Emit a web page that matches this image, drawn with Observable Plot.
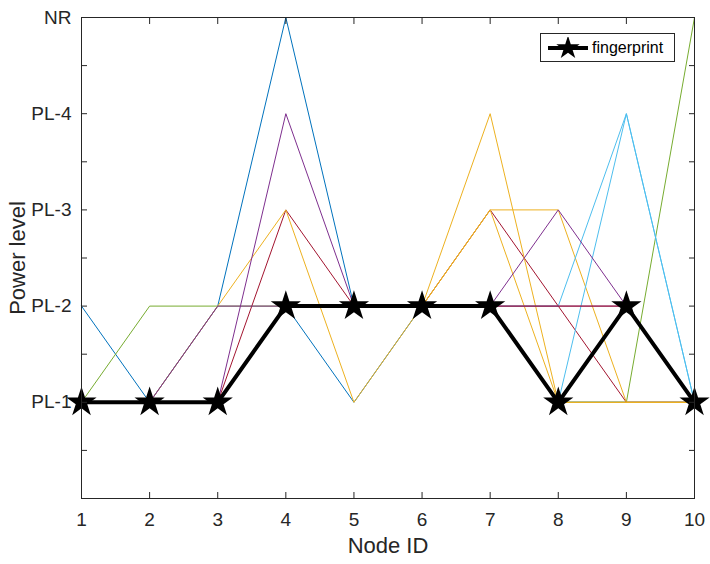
<!DOCTYPE html>
<html>
<head>
<meta charset="utf-8">
<script src="https://cdn.jsdelivr.net/npm/d3@7"></script>
<script src="https://cdn.jsdelivr.net/npm/@observablehq/plot@0.6"></script>
<style>
  html, body { margin: 0; padding: 0; background: #fff; }
  #wrap { position: relative; width: 710px; height: 564px; font-family: "Liberation Sans", Arial, Helvetica, sans-serif; }
  #legend { position: absolute; left: 540px; top: 33px; width: 135px; height: 29px; border: 1px solid #262626; background: #fff; box-sizing: border-box; display: flex; align-items: center; font-size: 16px; color: #000; }
  #legend svg { margin-left: 5px; margin-right: 2px; }
</style>
</head>
<body>
<div id="wrap"></div>
<script>
// ---- data ----
const nodes = [1, 2, 3, 4, 5, 6, 7, 8, 9, 10];
const yTickValues = [1, 2, 3, 4, 5];
const yTickLabels = ["PL-1", "PL-2", "PL-3", "PL-4", "NR"];
const fingerprint = [1, 1, 1, 2, 2, 2, 2, 1, 2, 1];
const blueA   = [2, 1, 1, 2, 1, 2, 2, 1, 1, 1];
const blueB   = [1, 1, 2, 5, 2, 2, 2, 1, 1, 1];
const greenA  = [1, 2, 2, 2, 2, 2, 2, 1, 1, 5];
const redA    = [1, 1, 1, 3, 2, 2, 3, 2, 1, 1];
const yellowA = [1, 1, 2, 3, 1, 2, 4, 1, 1, 1];
const yellowB = [1, 1, 1, 2, 2, 2, 3, 3, 1, 1];
const yellowC = [1, 1, 1, 2, 2, 2, 3, 1, 1, 1];
const cyanA   = [1, 1, 1, 2, 2, 2, 2, 1, 4, 1];
const cyanB   = [1, 1, 1, 2, 2, 2, 2, 2, 4, 1];
const purpleA = [1, 1, 2, 2, 2, 2, 2, 3, 2, 1];
const purpleB = [1, 1, 1, 4, 2, 2, 2, 2, 2, 1];
const redB    = [1, 1, 1, 2, 2, 2, 2, 2, 2, 1];

const seriesList = [
  {name: "blueA", values: blueA, color: "#0072BD"},
  {name: "blueB", values: blueB, color: "#0072BD"},
  {name: "greenA", values: greenA, color: "#77AC30"},
  {name: "redA", values: redA, color: "#A2142F"},
  {name: "yellowA", values: yellowA, color: "#EDB120"},
  {name: "yellowB", values: yellowB, color: "#EDB120"},
  {name: "yellowC", values: yellowC, color: "#EDB120"},
  {name: "cyanA", values: cyanA, color: "#4DBEEE"},
  {name: "cyanB", values: cyanB, color: "#4DBEEE"},
  {name: "purpleA", values: purpleA, color: "#7E2F8E"},
  {name: "purpleB", values: purpleB, color: "#7E2F8E"},
  {name: "redB", values: redB, color: "#A2142F"}
];

const fpData = nodes.map((n, i) => ({node: n, level: fingerprint[i]}));
const minorY = d3.range(0, 5.01, 0.5);

const axisColor = "#262626";
const lineMarks = seriesList.map(s =>
  Plot.line(nodes.map((n, i) => ({node: n, level: s.values[i]})),
    {x: "node", y: "level", stroke: s.color, strokeWidth: 1})
);

const chart = Plot.plot({
  width: 710,
  height: 564,
  marginLeft: 81,
  marginRight: 16,
  marginTop: 17,
  marginBottom: 66,
  style: {fontFamily: "Liberation Sans, Arial, Helvetica, sans-serif", fontSize: "19px", color: axisColor, background: "#fff"},
  x: {domain: [1, 10]},
  y: {domain: [0, 5]},
  marks: [
    ...lineMarks,
    Plot.line(fpData, {x: "node", y: "level", stroke: "#000", strokeWidth: 4, strokeLinejoin: "miter"}),
    Plot.dot(fpData, {x: "node", y: "level", symbol: "star", r: 9.5, fill: "#000", stroke: "none"}),
    Plot.frame({stroke: axisColor, strokeWidth: 1}),
    // inward ticks
    Plot.axisX({anchor: "bottom", ticks: nodes, tickSize: 6, dy: -6, tickFormat: () => "", label: null, stroke: axisColor}),
    Plot.axisX({anchor: "top", ticks: nodes, tickSize: 6, dy: 6, tickFormat: () => "", label: null, stroke: axisColor}),
    Plot.axisY({anchor: "left", ticks: minorY, tickSize: 6, dx: 6, tickFormat: () => "", label: null, stroke: axisColor}),
    Plot.axisY({anchor: "right", ticks: minorY, tickSize: 6, dx: -6, tickFormat: () => "", label: null, stroke: axisColor}),
    // labels
    Plot.axisX({anchor: "bottom", ticks: nodes, tickSize: 0, tickPadding: 14, fontSize: 19, fill: axisColor,
      label: "Node ID", labelAnchor: "center", labelArrow: "none", labelOffset: 54}),
    Plot.axisY({anchor: "left", ticks: yTickValues, tickSize: 0, tickPadding: 10, fontSize: 19, fill: axisColor,
      tickFormat: d => yTickLabels[d - 1],
      label: "Power level", labelAnchor: "center", labelArrow: "none", labelOffset: 72})
  ]
});

chart.querySelectorAll("[aria-label='x-axis label'] text, [aria-label='y-axis label'] text").forEach(t => {
  t.setAttribute("font-size", "22");
  t.style.fontSize = "22px";
});

const wrap = document.getElementById("wrap");
wrap.appendChild(chart);

const legend = document.createElement("div");
legend.id = "legend";
legend.innerHTML = `<svg width="44" height="22" viewBox="0 0 44 22">
  <line x1="2" y1="11" x2="42" y2="11" stroke="#000" stroke-width="4"/>
  <path d="${d3.symbol(d3.symbolStar, Math.PI * 9.5 * 9.5 * 0.6)()}" transform="translate(22,11)" fill="#000"/>
</svg><span>fingerprint</span>`;
wrap.appendChild(legend);
</script>
</body>
</html>
